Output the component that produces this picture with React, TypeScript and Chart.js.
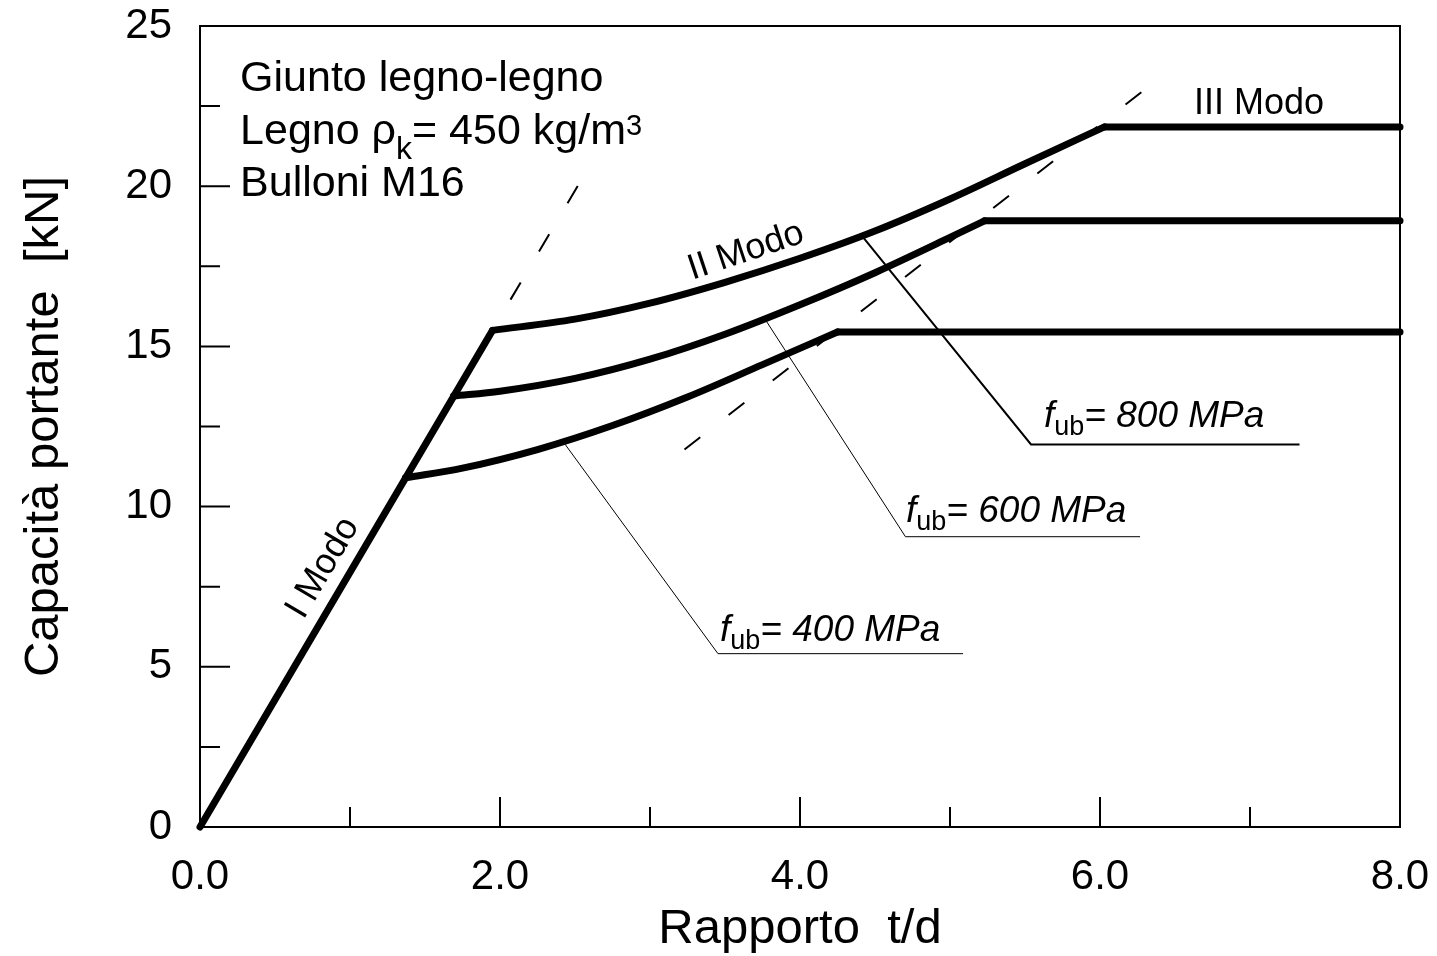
import React, { useEffect, useRef } from 'react';
import { Chart, registerables } from 'chart.js';

Chart.register(...registerables);

const FONT = '"Liberation Sans", Arial, Helvetica, sans-serif';

// Axes
const X_MIN = 0;
const X_MAX = 8;
const X_STEP = 1;
const Y_MIN = 0;
const Y_MAX = 25;
const Y_STEP = 2.5;
const X_TITLE = 'Rapporto  t/d';
const Y_TITLE = 'Capacità portante  [kN]';

// I Modo (common straight branch)
const MODE_I_T = [0, 1.95];
const MODE_I_F = [0, 15.5];

// f_ub = 800 MPa
const M800_II_T = [1.95, 2.5, 3.0, 3.5, 4.0, 4.5, 5.0, 5.5, 6.03];
const M800_II_F = [15.5, 15.85, 16.35, 17.0, 17.75, 18.6, 19.6, 20.7, 21.85];
const M800_III_T = [6.03, 8];
const M800_III_F = [21.85, 21.85];

// f_ub = 600 MPa
const M600_II_T = [1.69, 2.0, 2.5, 3.0, 3.5, 4.0, 4.5, 5.0, 5.23];
const M600_II_F = [13.45, 13.6, 14.0, 14.6, 15.38, 16.3, 17.3, 18.4, 18.92];
const M600_III_T = [5.23, 8];
const M600_III_F = [18.92, 18.92];

// f_ub = 400 MPa
const M400_II_T = [1.37, 1.75, 2.25, 2.75, 3.25, 3.75, 4.25];
const M400_II_F = [10.9, 11.2, 11.78, 12.53, 13.42, 14.43, 15.45];
const M400_III_T = [4.25, 8];
const M400_III_F = [15.45, 15.45];

// dashed guide lines
const GUIDE_I_T = [2.07, 2.53];
const GUIDE_I_F = [16.46, 20.1];
const GUIDE_III_T = [3.23, 6.43];
const GUIDE_III_F = [11.78, 23.5];

// leader lines to the f_ub labels
const LEADER_800_T = [4.413, 5.54, 7.33];
const LEADER_800_F = [18.45, 11.94, 11.94];
const LEADER_600_T = [3.767, 4.703, 6.267];
const LEADER_600_F = [15.85, 9.06, 9.06];
const LEADER_400_T = [2.433, 3.453, 5.087];
const LEADER_400_F = [11.95, 5.41, 5.41];

// labels
const FUB_VALUES = ['800', '600', '400'];
const FUB_POS_T = [5.627, 4.707, 3.467];
const FUB_POS_F = [12.47, 9.53, 5.81];

const NOTE_LINES = ['Giunto legno-legno', 'Legno', 'Bulloni M16'];
const NOTE_T = 0.267;
const NOTE_F = [22.97, 21.31, 19.69];

const pts = (xs: number[], ys: number[]) => xs.map((x, i) => ({ x, y: ys[i] }));

type Run = { t: string; size: number; italic?: boolean; dy?: number };

function drawRuns(ctx: CanvasRenderingContext2D, x: number, y: number, runs: Run[]) {
  let cx = x;
  for (const r of runs) {
    ctx.font = `${r.italic ? 'italic ' : ''}${r.size}px ${FONT}`;
    ctx.fillText(r.t, cx, y + (r.dy || 0));
    cx += ctx.measureText(r.t).width;
  }
}

const thick = (data: { x: number; y: number }[], smooth = false) => ({
  data,
  borderColor: '#000',
  backgroundColor: '#000',
  borderWidth: 7,
  pointRadius: 0,
  fill: false,
  tension: 0,
  cubicInterpolationMode: smooth ? ('monotone' as const) : ('default' as const),
  borderCapStyle: 'round' as const,
  borderJoinStyle: 'round' as const,
  clip: false as const,
});

const thin = (data: { x: number; y: number }[], width: number, dash: number[] = []) => ({
  data,
  borderColor: '#000',
  borderWidth: width,
  borderDash: dash,
  pointRadius: 0,
  fill: false,
  tension: 0,
  borderCapStyle: 'butt' as const,
  borderJoinStyle: 'miter' as const,
  clip: false as const,
});

const frameTicksPlugin = {
  id: 'frameTicks',
  beforeDatasetsDraw(chart: any) {
    const { ctx, chartArea: a, scales } = chart;
    const xs = scales.x;
    const ys = scales.y;
    ctx.save();
    ctx.strokeStyle = '#000';
    ctx.lineWidth = 2;
    ctx.strokeRect(a.left, a.top, a.right - a.left, a.bottom - a.top);
    ctx.beginPath();
    xs.ticks.forEach((t: any) => {
      const px = xs.getPixelForValue(t.value);
      const len = Math.abs(t.value % 2) < 1e-6 ? 30 : 20;
      ctx.moveTo(px, a.bottom);
      ctx.lineTo(px, a.bottom - len);
    });
    ys.ticks.forEach((t: any) => {
      const py = ys.getPixelForValue(t.value);
      const len = Math.abs(t.value % 5) < 1e-6 ? 30 : 20;
      ctx.moveTo(a.left, py);
      ctx.lineTo(a.left + len, py);
    });
    ctx.stroke();
    ctx.restore();
  },
};

const textPlugin = {
  id: 'texts',
  afterDatasetsDraw(chart: any) {
    const { ctx, scales } = chart;
    const xs = scales.x;
    const ys = scales.y;
    const X = (v: number) => xs.getPixelForValue(v);
    const Y = (v: number) => ys.getPixelForValue(v);
    ctx.save();
    ctx.fillStyle = '#000';
    ctx.textAlign = 'left';
    ctx.textBaseline = 'alphabetic';

    // notes top-left
    drawRuns(ctx, X(NOTE_T), Y(NOTE_F[0]), [{ t: NOTE_LINES[0], size: 43 }]);
    drawRuns(ctx, X(NOTE_T), Y(NOTE_F[1]), [
      { t: NOTE_LINES[1] + ' ', size: 43 },
      { t: 'ρ', size: 43 },
      { t: 'k', size: 32, dy: 15 },
      { t: '= 450 kg/m', size: 43 },
      { t: '3', size: 29, dy: -9 },
    ]);
    drawRuns(ctx, X(NOTE_T), Y(NOTE_F[2]), [{ t: NOTE_LINES[2], size: 43 }]);

    // f_ub labels
    FUB_VALUES.forEach((v, i) => {
      drawRuns(ctx, X(FUB_POS_T[i]), Y(FUB_POS_F[i]), [
        { t: 'f', size: 37, italic: true },
        { t: 'ub', size: 27, dy: 8 },
        { t: `= ${v} MPa`, size: 37, italic: true },
      ]);
    });

    // III Modo
    ctx.font = `36px ${FONT}`;
    ctx.fillText('III Modo', X(6.627), Y(22.25));

    // I Modo (rotated along mode I line)
    const angI = Math.atan2(Y(MODE_I_F[1]) - Y(MODE_I_F[0]), X(MODE_I_T[1]) - X(MODE_I_T[0]));
    ctx.save();
    ctx.translate(X(0.82), Y(8.09));
    ctx.rotate(angI);
    ctx.textAlign = 'center';
    ctx.textBaseline = 'middle';
    ctx.font = `36px ${FONT}`;
    ctx.fillText('I Modo', 0, 0);
    ctx.restore();

    // II Modo
    ctx.save();
    ctx.translate(X(3.64), Y(17.97));
    ctx.rotate((-18.5 * Math.PI) / 180);
    ctx.textAlign = 'center';
    ctx.textBaseline = 'middle';
    ctx.font = `36px ${FONT}`;
    ctx.fillText('II Modo', 0, 0);
    ctx.restore();

    ctx.restore();
  },
};

export default function App() {
  const ref = useRef<HTMLCanvasElement>(null);

  useEffect(() => {
    if (!ref.current) return;
    const chart = new Chart(ref.current, {
      type: 'line',
      data: {
        datasets: [
          thin(pts(GUIDE_I_T, GUIDE_I_F), 2, [20, 36]),
          thin(pts(GUIDE_III_T, GUIDE_III_F), 2, [20, 36]),
          thin(pts(LEADER_800_T, LEADER_800_F), 2),
          thin(pts(LEADER_600_T, LEADER_600_F), 1),
          thin(pts(LEADER_400_T, LEADER_400_F), 1),
          thick(pts(MODE_I_T, MODE_I_F)),
          thick(pts(M800_II_T, M800_II_F), true),
          thick(pts(M800_III_T, M800_III_F)),
          thick(pts(M600_II_T, M600_II_F), true),
          thick(pts(M600_III_T, M600_III_F)),
          thick(pts(M400_II_T, M400_II_F), true),
          thick(pts(M400_III_T, M400_III_F)),
        ] as any,
      },
      options: {
        responsive: false,
        animation: false,
        events: [],
        layout: { padding: { left: 0, top: 26, right: 37, bottom: 0 } },
        plugins: { legend: { display: false }, tooltip: { enabled: false }, title: { display: false } },
        scales: {
          x: {
            type: 'linear',
            min: X_MIN,
            max: X_MAX,
            grid: { display: false, drawTicks: true, tickLength: 25 },
            border: { display: false },
            ticks: {
              stepSize: X_STEP,
              autoSkip: false,
              maxRotation: 0,
              padding: 0,
              color: '#000',
              font: { family: FONT, size: 42, lineHeight: 1.2 },
              callback: (v: any) => (Math.abs(Number(v) % 2) < 1e-6 ? Number(v).toFixed(1) : ''),
            },
            title: {
              display: true,
              text: X_TITLE,
              color: '#000',
              font: { family: FONT, size: 49, lineHeight: 1 },
              padding: { top: 0, bottom: 2 },
            },
            afterFit: (s: any) => {
              s.height = 129;
            },
          },
          y: {
            type: 'linear',
            min: Y_MIN,
            max: Y_MAX,
            grid: { display: false, drawTicks: true, tickLength: 28 },
            border: { display: false },
            ticks: {
              stepSize: Y_STEP,
              autoSkip: false,
              padding: 0,
              color: '#000',
              font: { family: FONT, size: 42, lineHeight: 1 },
              callback: (v: any) => (Math.abs(Number(v) % 5) < 1e-6 ? String(Number(v)) : ''),
            },
            title: {
              display: true,
              text: Y_TITLE,
              color: '#000',
              font: { family: FONT, size: 49, lineHeight: 1 },
              padding: { top: 20, bottom: 0 },
            },
            afterFit: (s: any) => {
              s.width = 200;
            },
          },
        },
      } as any,
      plugins: [frameTicksPlugin, textPlugin],
    });
    return () => chart.destroy();
  }, []);

  return (
    <div style={{ position: 'absolute', left: 0, top: 0, width: 1437, height: 956, background: '#fff' }}>
      <canvas ref={ref} width={1437} height={956} style={{ display: 'block', width: 1437, height: 956 }} />
    </div>
  );
}
